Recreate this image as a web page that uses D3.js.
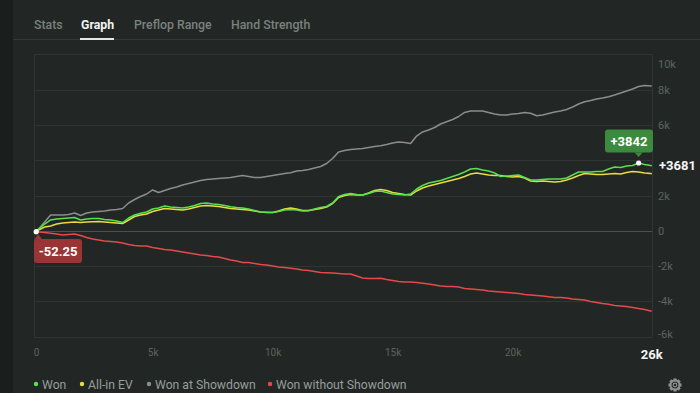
<!DOCTYPE html>
<html>
<head>
<meta charset="utf-8">
<script src="https://cdn.jsdelivr.net/npm/d3@7"></script>
<style>
  html, body { margin: 0; padding: 0; background: #222725; }
  body { width: 700px; height: 393px; overflow: hidden; font-family: "Segoe UI", Roboto, "Noto Sans", sans-serif; }
  svg text { font-family: "Segoe UI", Roboto, "Noto Sans", sans-serif; }
</style>
</head>
<body>
<div id="graph"></div>
<script>
const WIDTH = 700;
const HEIGHT = 393;

const TABS = ["Stats", "Graph", "Preflop Range", "Hand Strength"];
const ACTIVE_TAB = "Graph";

// hands played (x axis)
const HANDS = [150].concat(d3.range(250, 25751, 250), [25800]);
const LAST_HAND_LABEL = "26k";

const WON = [
  -52.25, 102, 385, 612, 669, 697, 725, 754, 612, 669,
  697, 697, 640, 612, 555, 470, 725, 895, 992, 1065,
  1235, 1292, 1405, 1349, 1320, 1292, 1349, 1434, 1547, 1575,
  1519, 1490, 1434, 1366, 1320, 1292, 1235, 1150, 1065, 1048,
  1037, 1094, 1179, 1207, 1179, 1122, 1139, 1235, 1320, 1377,
  1575, 1943, 2057, 2113, 2057, 2028, 2113, 2227, 2255, 2170,
  2085, 2057, 2028, 2085, 2368, 2567, 2708, 2782, 2850, 2963,
  3077, 3190, 3332, 3502, 3530, 3445, 3388, 3275, 3077, 3105,
  3133, 3162, 3020, 2878, 2878, 2907, 2935, 2935, 2935, 2992,
  3162, 3332, 3332, 3332, 3360, 3360, 3502, 3615, 3587, 3672,
  3700, 3842, 3757, 3700, 3681
];
const ALLIN_EV = [
  -40, 45, 215, 272, 385, 442, 470, 499, 470, 499,
  516, 527, 499, 470, 442, 414, 612, 810, 895, 952,
  1094, 1179, 1264, 1235, 1207, 1179, 1235, 1320, 1405, 1434,
  1405, 1377, 1320, 1264, 1235, 1207, 1179, 1122, 1065, 1037,
  1037, 1122, 1235, 1292, 1235, 1150, 1150, 1207, 1264, 1349,
  1547, 1887, 2000, 2057, 2028, 2028, 2142, 2283, 2340, 2283,
  2170, 2113, 2057, 2028, 2255, 2425, 2538, 2623, 2708, 2793,
  2878, 2963, 3077, 3218, 3275, 3218, 3162, 3133, 3133, 3077,
  3048, 3077, 2992, 2822, 2793, 2822, 2793, 2765, 2793, 2878,
  2992, 3133, 3247, 3218, 3190, 3190, 3218, 3247, 3218, 3303,
  3360, 3332, 3275, 3247, 3235
];
const WON_SHOWDOWN = [
  -11, 102, 499, 895, 895, 895, 924, 1009, 867, 1009,
  1065, 1094, 1122, 1179, 1207, 1264, 1575, 1773, 1943, 2085,
  2312, 2170, 2283, 2397, 2482, 2595, 2680, 2765, 2850, 2907,
  2935, 2963, 2992, 3020, 3077, 3133, 3077, 3020, 3020, 3077,
  3133, 3190, 3247, 3292, 3388, 3417, 3473, 3558, 3643, 3813,
  4097, 4465, 4550, 4607, 4635, 4663, 4720, 4777, 4822, 4890,
  4975, 5031, 5003, 4946, 5371, 5598, 5711, 5853, 6051, 6182,
  6306, 6476, 6703, 6788, 6788, 6788, 6703, 6618, 6561, 6561,
  6618, 6646, 6703, 6658, 6522, 6561, 6646, 6731, 6788, 6873,
  7015, 7185, 7315, 7383, 7468, 7524, 7598, 7694, 7808, 7921,
  8034, 8176, 8233, 8204, 8204
];
const WON_NO_SHOWDOWN = [
  -11, -68, -96, -142, -181, -238, -210, -181, -266, -380,
  -465, -521, -578, -606, -635, -691, -776, -833, -861, -861,
  -946, -1003, -1060, -1088, -1144, -1201, -1258, -1315, -1371, -1400,
  -1456, -1485, -1570, -1655, -1711, -1796, -1796, -1853, -1909, -1938,
  -1994, -2051, -2079, -2125, -2164, -2221, -2249, -2306, -2363, -2374,
  -2391, -2419, -2448, -2448, -2561, -2674, -2703, -2703, -2691, -2759,
  -2816, -2873, -2901, -2901, -2929, -2975, -3014, -3071, -3128, -3156,
  -3156, -3184, -3269, -3298, -3326, -3354, -3411, -3439, -3468, -3496,
  -3524, -3553, -3609, -3638, -3666, -3694, -3734, -3779, -3779, -3808,
  -3864, -3893, -3921, -4006, -4062, -4119, -4164, -4233, -4261, -4289,
  -4346, -4403, -4459, -4544, -4544
];

const SERIES_NAMES = ["Won", "All-in EV", "Won at Showdown", "Won without Showdown"];
const SERIES_COLORS = ["#58e04f", "#e9dc3c", "#8c8c8c", "#e8484a"];
const SERIES_DATA = [WON, ALLIN_EV, WON_SHOWDOWN, WON_NO_SHOWDOWN];

const Y_TICKS = [-6000, -4000, -2000, 0, 2000, 4000, 6000, 8000, 10000];
const Y_LABELS = [-6000, -4000, -2000, 0, 2000, 6000, 8000, 10000];
const X_TICKS = [0, 5000, 10000, 15000, 20000];

const svg = d3.select("#graph")
  .append("svg")
  .attr("width", WIDTH)
  .attr("height", HEIGHT);

// left dark strip
svg.append("rect").attr("x", 0).attr("y", 0).attr("width", 13).attr("height", HEIGHT).attr("fill", "#1a1e1d");

// tabs
let tabX = [34, 81, 134, 231];
TABS.forEach((t, i) => {
  svg.append("text")
    .attr("x", tabX[i]).attr("y", 29)
    .attr("font-size", 12.3)
    .attr("font-weight", t === ACTIVE_TAB ? 700 : 500)
    .attr("fill", t === ACTIVE_TAB ? "#f2f4f3" : "#7b817e")
    .text(t);
});
svg.append("rect").attr("x", 13).attr("y", 39).attr("width", WIDTH - 13).attr("height", 1).attr("fill", "#343a37");
svg.append("rect").attr("x", 80).attr("y", 38).attr("width", 34).attr("height", 2).attr("fill", "#e6e8e7");

const x = d3.scaleLinear().domain([0, 25800]).range([32.6, 651.8]);
const y = d3.scaleLinear().domain([-6000, 10000]).range([336.7, 54.3]);

// grid
svg.append("g")
  .selectAll("line")
  .data(Y_TICKS)
  .enter()
  .append("line")
  .attr("x1", 34).attr("x2", 652)
  .attr("y1", d => Math.round(y(d)) + 0.5)
  .attr("y2", d => Math.round(y(d)) + 0.5)
  .attr("stroke", d => d === 0 ? "#4b514e" : "#2f3532")
  .attr("stroke-width", 1);
[34, 652].forEach(px => {
  svg.append("line")
    .attr("x1", px + 0.5).attr("x2", px + 0.5)
    .attr("y1", y(10000)).attr("y2", y(-6000))
    .attr("stroke", "#2f3532");
});

// y axis labels (4k hidden behind the last value label)
const yAxis = svg.append("g")
  .attr("transform", "translate(656,0)")
  .call(d3.axisRight(y).tickValues(Y_LABELS).tickSize(0).tickFormat(d => d === 0 ? "0" : d / 1000 + "k"));
yAxis.select(".domain").remove();
yAxis.selectAll("text")
  .attr("fill", "#5d6360")
  .attr("font-size", 11)
  .attr("x", 2)
  .attr("transform", d => d === 10000 ? "translate(0,10)" : d === -6000 ? "translate(0,-3)" : null);

// x axis labels
const xAxis = svg.append("g")
  .attr("transform", "translate(0,346)")
  .call(d3.axisBottom(x).tickValues(X_TICKS).tickSize(0).tickFormat(d => d === 0 ? "0" : d / 1000 + "k"));
xAxis.select(".domain").remove();
xAxis.selectAll("text")
  .attr("fill", "#5d6360")
  .attr("font-size", 10)
  .attr("dx", d => d === 0 ? 3.5 : 0);
svg.append("text")
  .attr("x", x(HANDS[HANDS.length - 1])).attr("y", 359)
  .attr("text-anchor", "middle")
  .attr("font-size", 13).attr("font-weight", 700)
  .attr("fill", "#f4f5f4")
  .text(LAST_HAND_LABEL);

// lines
const line = d3.line()
  .x((d, i) => x(HANDS[i]))
  .y(d => y(d));
[3, 2, 1, 0].forEach(k => {
  svg.append("path")
    .datum(SERIES_DATA[k])
    .attr("d", line)
    .attr("fill", "none")
    .attr("stroke", SERIES_COLORS[k])
    .attr("stroke-width", 1.5)
    .attr("stroke-linejoin", "round");
});

// min / max badges on Won
const maxIdx = d3.maxIndex(WON);
const minIdx = d3.minIndex(WON);
const mx = x(HANDS[maxIdx]), my = y(WON[maxIdx]);
const nx = x(HANDS[minIdx]), ny = y(WON[minIdx]);

// max badge
svg.append("rect").attr("x", 605).attr("y", 129.5).attr("width", 48).attr("height", 23).attr("rx", 3).attr("fill", "#3b8a3e");
svg.append("path").attr("d", `M${mx - 4},152.5 L${mx},157 L${mx + 4},152.5 Z`).attr("fill", "#3b8a3e");
svg.append("text").attr("x", 629).attr("y", 146).attr("text-anchor", "middle")
  .attr("font-size", 13).attr("font-weight", 700).attr("fill", "#ffffff")
  .text("+" + WON[maxIdx]);
svg.append("circle").attr("cx", mx).attr("cy", my).attr("r", 2.6).attr("fill", "#ffffff");

// min badge
svg.append("path").attr("d", `M${nx - 2},239.5 L${nx + 2},234 L${nx + 6},239.5 Z`).attr("fill", "#9b3434");
svg.append("rect").attr("x", 34).attr("y", 239).attr("width", 48).attr("height", 24).attr("rx", 3).attr("fill", "#9b3434");
svg.append("text").attr("x", 58).attr("y", 256).attr("text-anchor", "middle")
  .attr("font-size", 13).attr("font-weight", 700).attr("fill", "#ffffff")
  .text(WON[minIdx]);
svg.append("circle").attr("cx", nx).attr("cy", ny).attr("r", 2.6).attr("fill", "#ffffff");

// last value
svg.append("text")
  .attr("x", 659).attr("y", y(WON[WON.length - 1]) + 4.5)
  .attr("font-size", 13).attr("font-weight", 700).attr("fill", "#f4f5f4")
  .text("+" + WON[WON.length - 1]);

// legend
let legX = [36, 82, 149, 270];
SERIES_NAMES.forEach((n, i) => {
  svg.append("circle").attr("cx", legX[i]).attr("cy", 384).attr("r", 2.2).attr("fill", SERIES_COLORS[i]);
  svg.append("text").attr("x", legX[i] + 6).attr("y", 389)
    .attr("font-size", 12.2).attr("fill", "#979d9a")
    .text(n);
});

// settings gear
const gear = svg.append("g").attr("transform", "translate(675,385)");
d3.range(8).forEach(i => {
  gear.append("rect")
    .attr("x", -1.6).attr("y", -6.5).attr("width", 3.2).attr("height", 3)
    .attr("fill", "#8d9390")
    .attr("transform", `rotate(${i * 45})`);
});
gear.append("circle").attr("r", 4.6).attr("fill", "none").attr("stroke", "#8d9390").attr("stroke-width", 1.6);
gear.append("circle").attr("r", 1.8).attr("fill", "none").attr("stroke", "#8d9390").attr("stroke-width", 1.2);
</script>
</body>
</html>
